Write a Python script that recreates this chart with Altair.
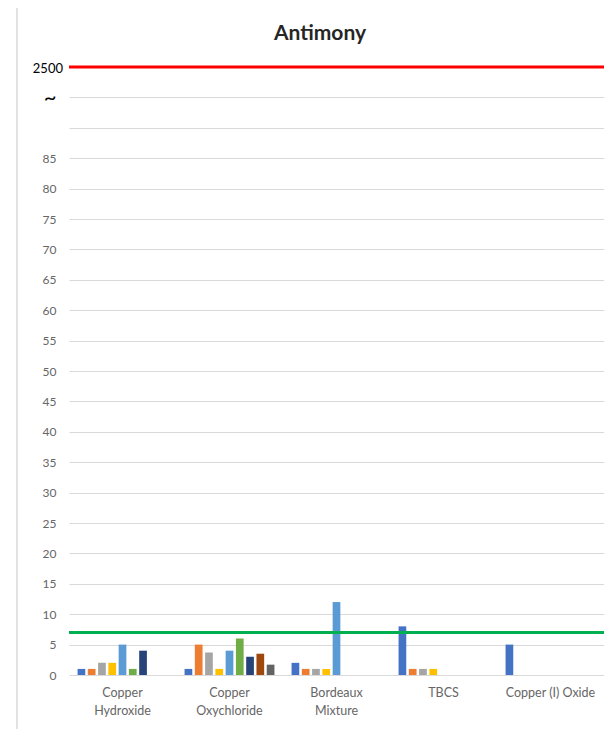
import altair as alt
import pandas as pd

# ---- data ----
categories = ["Copper Hydroxide", "Copper Oxychloride", "Bordeaux Mixture", "TBCS", "Copper (I) Oxide"]
series = ["S1", "S2", "S3", "S4", "S5", "S6", "S7", "S8", "S9"]
colors = ["#4472C4", "#ED7D31", "#A5A5A5", "#FFC000", "#5B9BD5", "#70AD47", "#264478", "#9E480E", "#636363"]

copper_hydroxide = [1, 1, 2, 2, 5, 1, 4, None, None]
copper_oxychloride = [1, 5, 3.7, 1, 4, 6, 3, 3.5, 1.7]
bordeaux_mixture = [2, 1, 1, 1, 12, None, None, None, None]
tbcs = [8, 1, 1, 1, None, None, None, None, None]
copper_i_oxide = [5, None, None, None, None, None, None, None, None]

title_text = "Antimony"
green_limit = 7
break_position = 100      # axis position of the broken-scale line
break_label = "2500"      # value shown at the break
y_ticks = list(range(0, 105, 5))

rows = []
for cat, vals in zip(categories, [copper_hydroxide, copper_oxychloride, bordeaux_mixture, tbcs, copper_i_oxide]):
    for s, v in zip(series, vals):
        if v is not None:
            rows.append({"category": cat, "series": s, "value": v})
df = pd.DataFrame(rows)

FONT = "Lato"
W, H = 535, 608
GREY_TXT = "#666666"

label_expr = (
    f"datum.value == {break_position} ? '' : "
    f"datum.value == {break_position - 5} ? '~' : "
    f"datum.value == {break_position - 10} ? '' : datum.label"
)

y_scale = alt.Scale(domain=[0, break_position], nice=False)
y_axis = alt.Axis(
    title=None, values=y_ticks, domain=False, ticks=False,
    labelPadding=13, labelFont=FONT, labelOverlap=False,
    labelColor=alt.condition(alt.datum.value == break_position - 5, alt.value("#000000"), alt.value(GREY_TXT)),
    labelFontSize=alt.condition(alt.datum.value == break_position - 5, alt.value(22), alt.value(12)),
    labelExpr=label_expr,
    gridColor="#D9D9D9", gridWidth=1,
)

bars = alt.Chart(df).mark_bar().encode(
    x=alt.X(
        "category:N",
        sort=categories,
        scale=alt.Scale(domain=categories, paddingInner=0.16, paddingOuter=0.08),
        axis=alt.Axis(
            title=None, labelAngle=0, domain=False, ticks=False,
            labelPadding=11, labelLineHeight=18, labelFontSize=12.5,
            labelColor=GREY_TXT, labelFont=FONT,
            labelExpr="datum.label == 'Copper (I) Oxide' ? datum.label : split(datum.label, ' ')",
        ),
    ),
    xOffset=alt.XOffset("series:N", scale=alt.Scale(domain=series, paddingInner=0.25)),
    y=alt.Y("value:Q", scale=y_scale, axis=y_axis),
    color=alt.Color("series:N", scale=alt.Scale(domain=series, range=colors), legend=None),
)

break_df = pd.DataFrame({"value": [break_position], "label": [break_label]})

red = alt.Chart(break_df).mark_rule(color="#FF0000", strokeWidth=3).encode(
    y=alt.Y("value:Q", scale=y_scale, axis=y_axis)
)
break_text = alt.Chart(break_df).mark_text(
    font=FONT, fontSize=13, color="#000000", align="right", baseline="middle", dy=2
).encode(text="label:N", x=alt.value(-6), y=alt.Y("value:Q", scale=y_scale, axis=y_axis))

green = alt.Chart(pd.DataFrame({"value": [green_limit]})).mark_rule(color="#00B050", strokeWidth=3).encode(
    y=alt.Y("value:Q", scale=y_scale, axis=y_axis)
)

frame = alt.Chart(pd.DataFrame({"a": [0]})).mark_rect(fill="transparent", stroke="#D9D9D9", strokeWidth=1.5).encode(
    x=alt.value(-52), x2=alt.value(W + 30), y=alt.value(-62), y2=alt.value(H + 80)
)

title = alt.Chart(pd.DataFrame({"t": [title_text]})).mark_text(
    font=FONT, fontSize=21, fontWeight="bold", color="#262626", align="center", baseline="alphabetic"
).encode(text="t:N", x=alt.value(251), y=alt.value(-27))

chart = alt.layer(frame, bars, green, red, break_text, title).properties(
    width=W,
    height=H,
    autosize=alt.AutoSizeParams(type="none"),
    padding={"left": 61, "top": 59, "right": 0, "bottom": 54},
).configure_view(stroke=None)

chart.save("out.html", embed_options={"renderer": "svg", "actions": False})
